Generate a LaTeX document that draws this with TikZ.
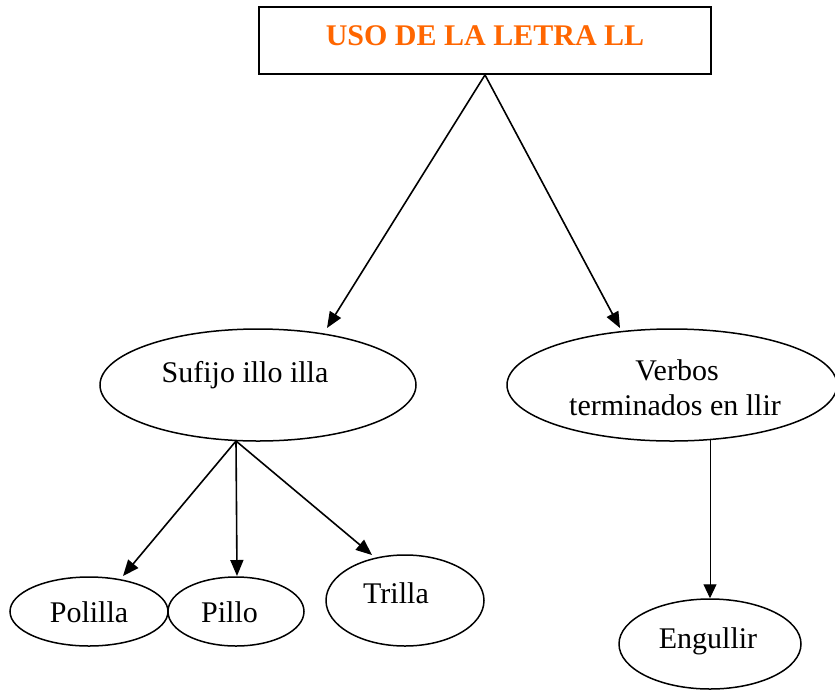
\documentclass[tikz,border=0pt]{standalone}
\usepackage{fontspec}
\setmainfont{Liberation Serif}
\usetikzlibrary{shapes.geometric,arrows.meta}
\definecolor{titleorange}{RGB}{255,102,0}
\begin{document}
\begin{tikzpicture}[x=1pt,y=-1pt,
  every node/.style={font=\fontsize{30}{35}\selectfont},
  bubble/.style={draw, ellipse, line width=1.5pt, inner sep=0pt},
  lbl/.style={anchor=base, inner sep=0pt},
  link/.style={-{Triangle[length=16pt,width=13pt]}, line width=1.6pt},
  thinlink/.style={-{Triangle[length=14pt,width=13pt]}, line width=1pt}]
\useasboundingbox (0,0) rectangle (835,689);
% title
\node[draw, line width=1.8pt, minimum width=452pt, minimum height=67pt, inner sep=0pt] (title) at (485,40.5) {};
\node[lbl, text=titleorange, font=\bfseries\fontsize{30}{35}\selectfont] (titletext) at (485,45) {USO DE LA LETRA LL};
% second level
\node[bubble, minimum width=316pt, minimum height=112pt] (suf) at (258,385) {};
\node[lbl] (suft) at (245,382) {Sufijo illo illa};
\node[bubble, minimum width=330pt, minimum height=112pt] (verb) at (672,385) {};
\node[lbl] (verbt1) at (677,380) {Verbos};
\node[lbl] (verbt2) at (675,415) {terminados en llir};
% third level
\node[bubble, minimum width=158pt, minimum height=69pt] (pol) at (89,611.5) {};
\node[lbl] (polt) at (89,622) {Polilla};
\node[bubble, minimum width=136pt, minimum height=69pt] (pil) at (236,611.5) {};
\node[lbl] (pilt) at (229.5,622) {Pillo};
\node[bubble, minimum width=158pt, minimum height=91pt] (tri) at (405,600.5) {};
\node[lbl] (trit) at (396,603) {Trilla};
\node[bubble, minimum width=182pt, minimum height=90pt] (eng) at (710,644) {};
\node[lbl] (engt) at (708,648) {Engullir};
% connectors
\draw[link] (title.south) -- ([shift={(69,-57)}]suf.center);
\draw[link] (title.south) -- ([shift={(-52,-57)}]verb.center);
\draw[link] ([shift={(-22,56)}]suf.center) -- ([shift={(34,-35.5)}]pol.center);
\draw[link] ([shift={(-22,56)}]suf.center) -- ([shift={(1,-35.5)}]pil.center);
\draw[link] ([shift={(-22,56)}]suf.center) -- ([shift={(-33,-45.5)}]tri.center);
\draw[thinlink] ([shift={(38,55)}]verb.center) -- (eng.north);
\end{tikzpicture}
\end{document}
